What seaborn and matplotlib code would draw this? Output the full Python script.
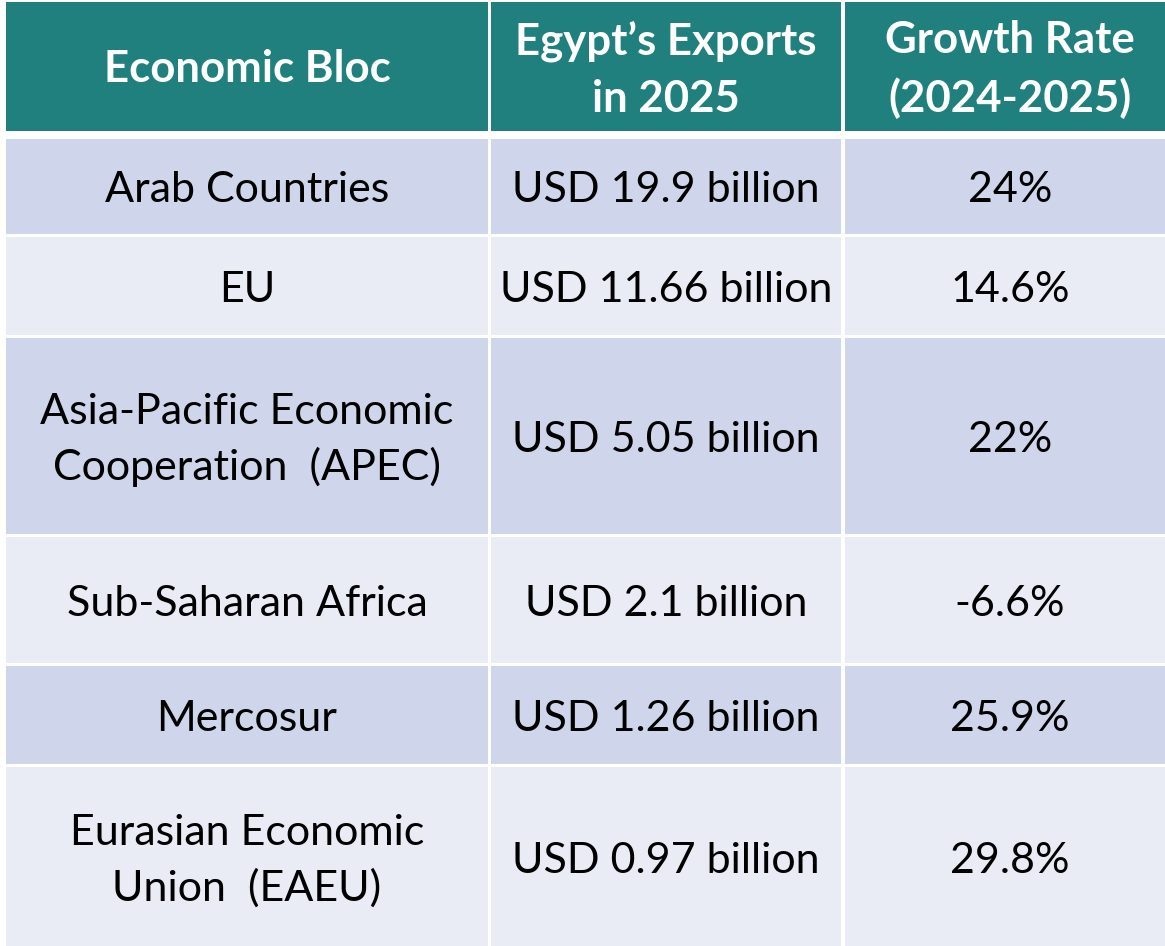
"""Egypt's exports by economic bloc, 2025: table drawn as a seaborn heatmap."""

import matplotlib
import numpy as np
import seaborn as sns

matplotlib.use("Agg")
import matplotlib.pyplot as plt
from matplotlib.colors import ListedColormap

HEADERS = ["Economic Bloc", "Egypt\u2019s Exports\nin 2025", "Growth Rate\n(2024-2025)"]
BLOCS = [
    "Arab Countries",
    "EU",
    "Asia-Pacific Economic\nCooperation  (APEC)",
    "Sub-Saharan Africa",
    "Mercosur",
    "Eurasian Economic\nUnion  (EAEU)",
]
EXPORTS = [
    "USD 19.9 billion",
    "USD 11.66 billion",
    "USD 5.05 billion",
    "USD 2.1 billion",
    "USD 1.26 billion",
    "USD 0.97 billion",
]
GROWTH = ["24%", "14.6%", "22%", "-6.6%", "25.9%", "29.8%"]

TEAL = "#1F807D"
ODD = "#CFD5EA"
EVEN = "#E9EBF5"

W, H = 1165, 946
# cell extents in pixels (top, bottom) per row and (left, right) per column
ROW_SPANS = [(2, 131), (139, 234), (237, 335), (338, 534), (537, 663), (666, 764), (767, 946)]
COL_SPANS = [(6, 488), (491, 841), (845, 1165)]
COL_CENTERS = [247, 666, 1010]


def main() -> None:
    sns.set_theme(style="white")
    plt.rcParams["font.family"] = ["Lato", "DejaVu Sans"]

    # category grid: 0 header, 1 odd row, 2 even row, 3 white gap
    grid = np.full((H, W), 3)
    for r, (y0, y1) in enumerate(ROW_SPANS):
        cat = 0 if r == 0 else (1 if r % 2 == 1 else 2)
        for x0, x1 in COL_SPANS:
            grid[y0:y1, x0:x1] = cat

    fig = plt.figure(figsize=(W / 100, H / 100), dpi=100)
    ax = fig.add_axes([0, 0, 1, 1])
    sns.heatmap(
        grid,
        cmap=ListedColormap([TEAL, ODD, EVEN, "white"]),
        vmin=-0.5,
        vmax=3.5,
        cbar=False,
        xticklabels=False,
        yticklabels=False,
        ax=ax,
        rasterized=True,
    )

    for c, label in enumerate(HEADERS):
        y0, y1 = ROW_SPANS[0]
        ax.text(COL_CENTERS[c], (y0 + y1) / 2 + 3, label, ha="center", va="center",
                color="white", fontsize=31.5, fontweight="bold", linespacing=1.5)

    for r, row in enumerate(zip(BLOCS, EXPORTS, GROWTH), start=1):
        y0, y1 = ROW_SPANS[r]
        for c, label in enumerate(row):
            ax.text(COL_CENTERS[c], (y0 + y1) / 2 + 4, label, ha="center", va="center",
                    color="black", fontsize=31, linespacing=1.5)

    ax.set_xlim(0, W)
    ax.set_ylim(H, 0)
    ax.axis("off")
    fig.savefig("out.png", dpi=100)
    plt.close(fig)


if __name__ == "__main__":
    main()
